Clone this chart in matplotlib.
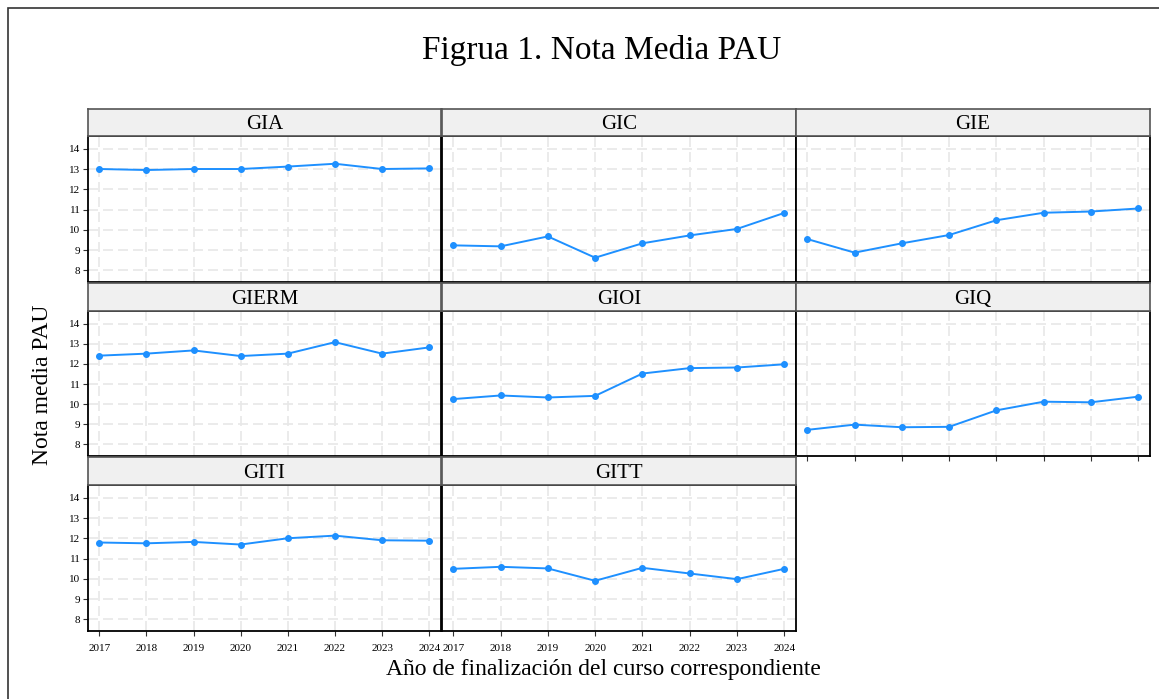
import matplotlib
matplotlib.use("Agg")
import matplotlib.pyplot as plt
from matplotlib.patches import Rectangle

plt.rcParams['font.family'] = ['Liberation Serif', 'DejaVu Serif']

years = [2017, 2018, 2019, 2020, 2021, 2022, 2023, 2024]
grados = ["GIA", "GIC", "GIE", "GIERM", "GIOI", "GIQ", "GITI", "GITT"]
gia = [13.00, 12.95, 13.00, 13.00, 13.12, 13.26, 13.00, 13.03]
gic = [9.23, 9.18, 9.67, 8.62, 9.33, 9.72, 10.04, 10.83]
gie = [9.54, 8.87, 9.33, 9.74, 10.47, 10.84, 10.90, 11.05]
gierm = [12.41, 12.51, 12.67, 12.39, 12.51, 13.08, 12.51, 12.82]
gioi = [10.25, 10.43, 10.33, 10.41, 11.52, 11.79, 11.82, 11.98]
giq = [8.72, 8.98, 8.85, 8.87, 9.69, 10.12, 10.09, 10.37]
giti = [11.79, 11.75, 11.82, 11.69, 12.00, 12.13, 11.90, 11.88]
gitt = [10.49, 10.59, 10.51, 9.90, 10.54, 10.26, 9.98, 10.49]
series = [gia, gic, gie, gierm, gioi, giq, giti, gitt]
y_ticks = [8, 9, 10, 11, 12, 13, 14]

W, H = 1159, 699
fig = plt.figure(figsize=(W / 100, H / 100), dpi=100)

def box(x0, y0, x1, y1):
    # pixel box (top-left origin) -> figure fraction
    return [x0 / W, 1 - y1 / H, (x1 - x0) / W, (y1 - y0) / H]

# outer frame
fig.patches.append(Rectangle((8 / W, -0.02), 1.2, 1 - 8 / H + 0.02, transform=fig.transFigure,
                             fill=False, edgecolor='#333333', lw=1.2))

cols = [(88, 441), (442, 796), (796, 1150)]
rows = [((109, 136), (136, 282)), ((283, 311), (311, 456)), ((457, 485), (485, 631))]

for i, (name, vals) in enumerate(zip(grados, series)):
    r, c = divmod(i, 3)
    (sy0, sy1), (py0, py1) = rows[r]
    x0, x1 = cols[c]

    ax = fig.add_axes(box(x0, py0, x1, py1))
    ax.set_xlim(2016.76, 2024.25)
    ax.set_ylim(7.42, 14.63)
    ax.set_xticks(years)
    ax.set_yticks(y_ticks)
    for y in y_ticks:
        ax.axhline(y, color='#e8e8e8', lw=1.2, dashes=(6, 3), zorder=0)
    for x in years:
        ax.axvline(x, color='#e8e8e8', lw=1.2, dashes=(6, 3), zorder=0)
    ax.plot(years, vals, color='#1E90FF', lw=1.4, marker='o', ms=4, zorder=3)
    for s in ax.spines.values():
        s.set_color('black')
        s.set_linewidth(1.3)
    ax.tick_params(axis='both', length=3.5, width=0.8, color='#333333', labelsize=8, pad=2)
    if c == 0:
        ax.set_yticklabels([str(v) for v in y_ticks])
    else:
        ax.tick_params(axis='y', left=False, labelleft=False)
    if r == 2 or (r == 1 and c == 2):
        ax.set_xticklabels([str(v) for v in years] if r == 2 else [])
        ax.tick_params(axis='x', labelsize=8, pad=6)
    else:
        ax.tick_params(axis='x', bottom=False, labelbottom=False)

    sax = fig.add_axes(box(x0, sy0, x1, sy1))
    sax.set_facecolor('#f0f0f0')
    sax.set_xticks([])
    sax.set_yticks([])
    for s in sax.spines.values():
        s.set_color('#555555')
        s.set_linewidth(1.2)
    sax.text(0.5, 0.42, name, ha='center', va='center', fontsize=15, transform=sax.transAxes)

fig.text(602 / W, 1 - 50 / H, "Figrua 1. Nota Media PAU", ha='center', va='center', fontsize=24)
fig.text(603 / W, 1 - 669 / H, "Año de finalización del curso correspondiente",
         ha='center', va='center', fontsize=17)
fig.text(43 / W, 1 - 385 / H, "Nota media PAU", ha='center', va='center', rotation=90, fontsize=17)

fig.savefig("out.png", dpi=100)
